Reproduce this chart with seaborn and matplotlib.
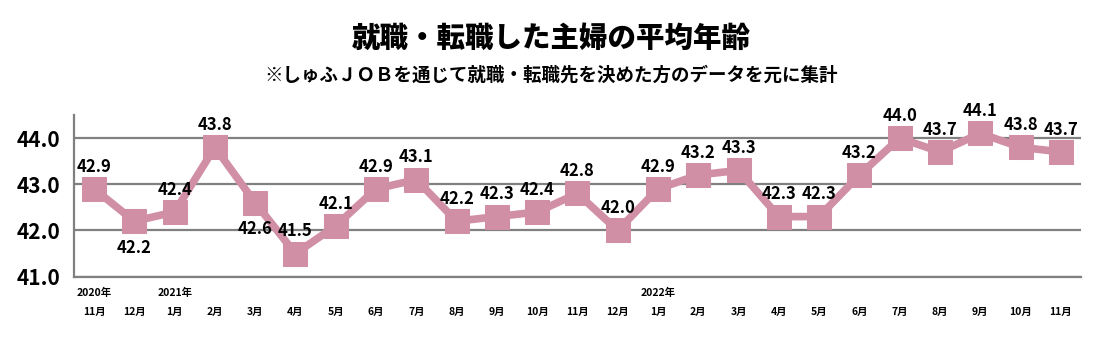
import matplotlib
matplotlib.use("Agg")
import matplotlib.pyplot as plt
import matplotlib.transforms as mtransforms
import seaborn as sns
import pandas as pd
import numpy as np

months = ["11月", "12月", "1月", "2月", "3月", "4月", "5月", "6月", "7月", "8月", "9月", "10月",
          "11月", "12月", "1月", "2月", "3月", "4月", "5月", "6月", "7月", "8月", "9月", "10月", "11月"]
years = ["2020年", "", "2021年", "", "", "", "", "", "", "", "", "",
         "", "", "2022年", "", "", "", "", "", "", "", "", "", ""]
ages = [42.9, 42.2, 42.4, 43.8, 42.6, 41.5, 42.1, 42.9, 43.1, 42.2, 42.3, 42.4,
        42.8, 42.0, 42.9, 43.2, 43.3, 42.3, 42.3, 43.2, 44.0, 43.7, 44.1, 43.8, 43.7]
yticks = [41.0, 42.0, 43.0, 44.0]
below_labels = {1, 4}

sns.set_theme(style="white")
plt.rcParams['font.family'] = ['Noto Sans CJK JP', 'DejaVu Sans']
plt.rcParams['text.color'] = 'black'
plt.rcParams['ytick.labelcolor'] = 'black'

df = pd.DataFrame({"idx": np.arange(len(ages)), "age": ages})

fig = plt.figure(figsize=(11.03, 3.37), dpi=100)
ax = fig.add_axes([0.067, 0.179, 0.913, 0.48])

color = "#D18FA5"
sns.lineplot(data=df, x="idx", y="age", ax=ax, color=color, linewidth=5.5,
             marker="s", markersize=17, markeredgecolor=color, markerfacecolor=color)

ax.set_xlim(-0.5, len(ages) - 0.5)
ax.set_ylim(41.0, 44.5)
ax.set_yticks(yticks)
ax.set_yticklabels([f"{v:.1f}" for v in yticks], fontsize=15, fontweight="bold", color="black")
ax.yaxis.grid(True, color="#808080", linewidth=1.6)
ax.set_axisbelow(True)
for s in ["top", "right"]:
    ax.spines[s].set_visible(False)
for s in ["left", "bottom"]:
    ax.spines[s].set_color("#808080")
    ax.spines[s].set_linewidth(1.6)
ax.tick_params(axis="y", length=0, pad=10)

ax.set_xticks(np.arange(-0.5, len(ages), 1.0))
ax.set_xticklabels([])
ax.tick_params(axis="x", direction="out", length=4, color="#808080", width=1.2)
ax.set_xlabel("")
ax.set_ylabel("")

trans = mtransforms.blended_transform_factory(ax.transData, fig.transFigure)
for i, (m, y) in enumerate(zip(months, years)):
    ax.text(i, 1 - 312 / 337, m, transform=trans, ha="center", va="center",
            fontsize=7.5, fontweight="bold", color="black")
    if y:
        ax.text(i, 1 - 293 / 337, y, transform=trans, ha="center", va="center",
                fontsize=7.5, fontweight="bold", color="black")

for i, v in enumerate(ages):
    if i in below_labels:
        ax.annotate(f"{v:.1f}", (i, v), xytext=(0, -19), textcoords="offset points",
                    ha="center", va="center", fontsize=12, fontweight="bold", color="black")
    else:
        ax.annotate(f"{v:.1f}", (i, v), xytext=(0, 16), textcoords="offset points",
                    ha="center", va="center", fontsize=12, fontweight="bold", color="black")

fig.text(0.5, 1 - 38 / 337, "就職・転職した主婦の平均年齢", ha="center", va="center",
         fontsize=20.5, fontweight="black", color="black")
fig.text(0.5, 1 - 75 / 337, "※しゅふＪＯＢを通じて就職・転職先を決めた方のデータを元に集計",
         ha="center", va="center", fontsize=13.3, fontweight="bold", color="black")

fig.savefig("out.png", dpi=100, facecolor="white")
